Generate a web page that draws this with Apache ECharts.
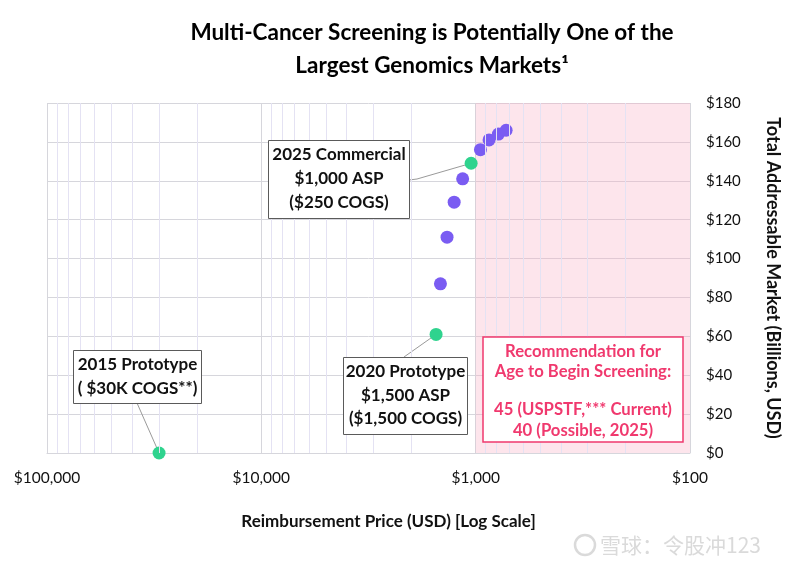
<!DOCTYPE html>
<html>
<head>
<meta charset="utf-8">
<script src="https://cdn.jsdelivr.net/npm/echarts@6/dist/echarts.min.js"></script>
<style>
  html, body { margin: 0; padding: 0; background: #ffffff; }
  #chart { width: 800px; height: 570px; }
</style>
</head>
<body>
<div id="chart"></div>
<script>
// ---- data ----
const titleLines = ['Multi-Cancer Screening is Potentially One of the', 'Largest Genomics Markets\u00b9'];
const xTickValues = [100, 1000, 10000, 100000];
const minorXValues = [200, 300, 400, 500, 600, 700, 800, 900,
                      2000, 3000, 4000, 5000, 6000, 7000, 8000, 9000,
                      20000, 30000, 40000, 50000, 60000, 70000, 80000, 90000];
const yTickValues = [0, 20, 40, 60, 80, 100, 120, 140, 160, 180];

// milestone (green) points
const milestoneNames = ['2015', '2020', '2025'];
const milestonePrice = [30000, 1530, 1050];
const milestoneTam = [0, 61, 149];

// TAM curve (purple) points
const curvePrice = [1460, 1360, 1260, 1150, 950, 866, 783, 721];
const curveTam = [87, 111, 129, 141, 156, 161, 164, 166];

// recommended zone (price range)
const zonePrice = [1000, 100];

const annotations = {
  '2015': ['2015 Prototype', '( $30K COGS**)'],
  '2020': ['2020 Prototype', '$1,500 ASP', '($1,500 COGS)'],
  '2025': ['2025 Commercial', '$1,000 ASP', '($250 COGS)']
};
const recText = ['Recommendation for', 'Age to Begin Screening:', '', '45 (USPSTF,*** Current)', '40 (Possible, 2025)'];

// ---- chart ----
const FONT = 'Lato, "Open Sans", sans-serif';
const chart = echarts.init(document.getElementById('chart'), null, { renderer: 'canvas' });

const option = {
  backgroundColor: '#ffffff',
  animation: false,
  title: {
    text: titleLines.join('\n'),
    left: 427,
    textAlign: 'center',
    top: 11,
    textStyle: { fontFamily: FONT, fontSize: 22.5, fontWeight: 'bold', color: '#000000', lineHeight: 33 }
  },
  grid: { left: 47, right: 110, top: 103, bottom: 117 },
  xAxis: {
    type: 'log',
    logBase: 10,
    min: 100,
    max: 100000,
    inverse: true,
    name: 'Reimbursement Price (USD) [Log Scale]',
    nameLocation: 'middle',
    nameGap: 60,
    nameTextStyle: { fontFamily: FONT, fontSize: 17, fontWeight: 'bold', color: '#111111', padding: [0, 0, 0, 40] },
    axisLine: { show: true, lineStyle: { color: '#d6d6dc', width: 1 } },
    axisTick: { show: false },
    axisLabel: {
      margin: 17,
      fontFamily: FONT, fontSize: 15.5, color: '#111111',
      formatter: v => '$' + Number(v).toLocaleString('en-US')
    },
    splitLine: { show: true, lineStyle: { color: '#d6d6dc', width: 1 } }
  },
  yAxis: {
    type: 'value',
    position: 'right',
    min: 0,
    max: 180,
    interval: 20,
    name: 'Total Addressable Market (Billions, USD)',
    nameLocation: 'middle',
    nameRotate: -90,
    nameGap: 74,
    nameTextStyle: { fontFamily: FONT, fontSize: 18, fontWeight: 'bold', color: '#111111' },
    axisLine: { show: false },
    axisTick: { show: false },
    axisLabel: {
      margin: 16,
      align: 'left',
      fontFamily: FONT, fontSize: 15, color: '#111111',
      formatter: v => '$' + v
    },
    splitLine: { show: true, lineStyle: { color: '#d6d6dc', width: 1 } }
  },
  series: [
    {
      name: 'grid-minor',
      type: 'scatter',
      data: [],
      z: 1,
      silent: true,
      markLine: {
        silent: true,
        symbol: ['none', 'none'],
        label: { show: false },
        lineStyle: { color: '#e4e2f3', width: 1, type: 'solid' },
        data: minorXValues.map(v => ({ xAxis: v }))
      },
      markArea: {
        silent: true,
        itemStyle: { color: 'rgba(250, 175, 198, 0.33)' },
        data: [[{ xAxis: zonePrice[0] }, { xAxis: zonePrice[1] }]]
      }
    },
    {
      name: 'curve',
      type: 'scatter',
      z: 4,
      symbolSize: 13,
      itemStyle: { color: '#7a5cf2', opacity: 1 },
      data: curvePrice.map((p, i) => [p, curveTam[i]])
    },
    {
      name: 'milestones',
      type: 'scatter',
      z: 4,
      symbolSize: 13,
      itemStyle: { color: '#2fd38e', opacity: 1 },
      data: milestonePrice.map((p, i) => [p, milestoneTam[i]])
    }
  ]
};
chart.setOption(option);

// ---- annotations (boxes & connectors) ----
function px(i) {
  return chart.convertToPixel({ xAxisIndex: 0, yAxisIndex: 0 }, [milestonePrice[i], milestoneTam[i]]);
}
const boxLayout = {
  '2015': { x: 73, y: 350, w: 128, h: 53, lh: 23.5, anchor: [137, 403], mid: null },
  '2020': { x: 343, y: 357, w: 124, h: 77, lh: 23.5, anchor: [404, 357], mid: null },
  '2025': { x: 268, y: 140, w: 141, h: 78, lh: 24, anchor: [409, 180], mid: [417, 179] }
};
const graphics = [];
milestoneNames.forEach((name, i) => {
  const b = boxLayout[name];
  const p = px(i);
  const pts = [b.anchor];
  if (b.mid) pts.push(b.mid);
  pts.push(p);
  graphics.push({
    type: 'polyline', z: 3, silent: true,
    shape: { points: pts },
    style: { stroke: '#9a9a9a', lineWidth: 1, fill: null }
  });
  graphics.push({
    type: 'rect', z: 10, silent: true,
    shape: { x: b.x + 0.5, y: b.y + 0.5, width: b.w, height: b.h },
    style: { fill: '#ffffff', stroke: '#5a5a5a', lineWidth: 1 }
  });
  const lines = annotations[name];
  const totalH = lines.length * b.lh;
  const startY = b.y + b.h / 2 - totalH / 2 + b.lh / 2;
  lines.forEach((t, k) => {
    graphics.push({
      type: 'text', z: 11, silent: true,
      style: {
        x: b.x + b.w / 2 + 0.5, y: startY + k * b.lh,
        text: t, align: 'center', verticalAlign: 'middle',
        font: 'bold 17px ' + FONT, fill: '#111111'
      }
    });
  });
});
// recommendation box
const rb = { x: 483, y: 337, w: 200, h: 105 };
graphics.push({
  type: 'rect', z: 10, silent: true,
  shape: { x: rb.x, y: rb.y, width: rb.w, height: rb.h },
  style: { fill: '#ffffff', stroke: '#f0396e', lineWidth: 1.5 }
});
const recY = [352, 372, 391, 410, 431];
recText.forEach((t, k) => {
  if (!t) return;
  graphics.push({
    type: 'text', z: 11, silent: true,
    style: {
      x: rb.x + rb.w / 2, y: recY[k],
      text: t, align: 'center', verticalAlign: 'middle',
      font: 'bold 16.7px ' + FONT, fill: '#f0396e'
    }
  });
});
// watermark
graphics.push({
  type: 'circle', z: 20, silent: true,
  shape: { cx: 585, cy: 545, r: 10 },
  style: { fill: null, stroke: '#dadada', lineWidth: 2.5 }
});
graphics.push({
  type: 'text', z: 20, silent: true,
  style: {
    x: 600, y: 545, text: '雪球：令股冲123', align: 'left', verticalAlign: 'middle',
    font: '21px "Noto Sans CJK SC", sans-serif', fill: '#dadada'
  }
});
chart.setOption({ graphic: graphics });
</script>
</body>
</html>
